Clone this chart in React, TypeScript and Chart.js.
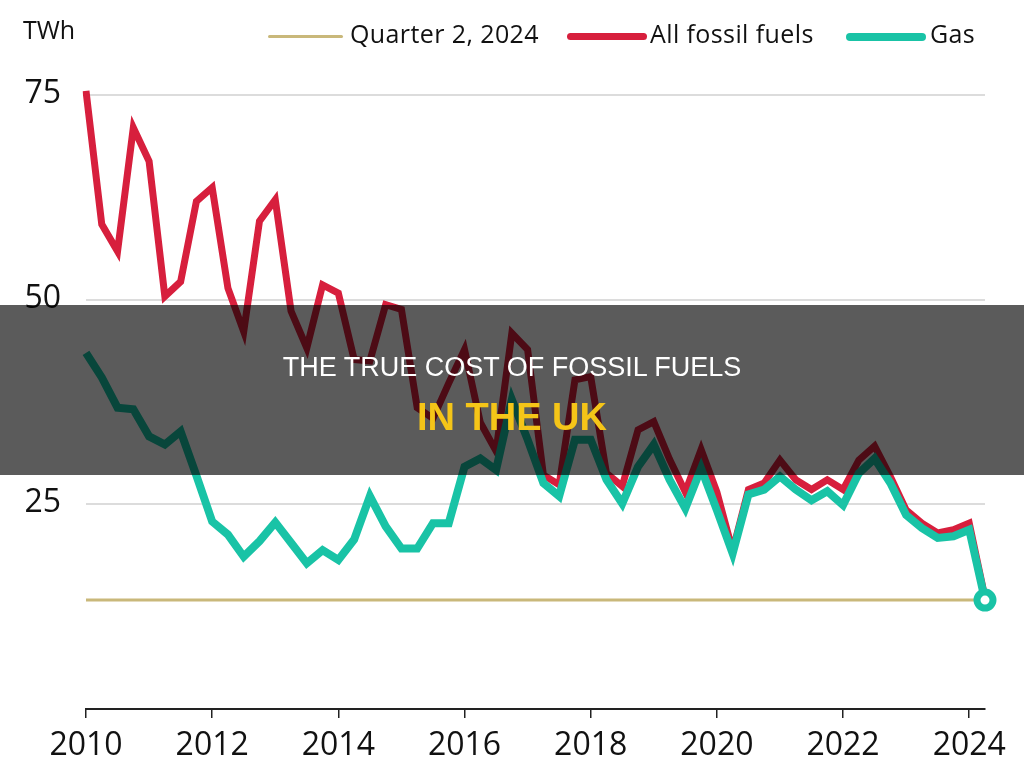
import { useEffect, useRef } from 'react';
import { Chart, registerables } from 'chart.js';

Chart.register(...registerables);

// Quarterly categories, 2010 Q1 to 2024 Q2
const years = [2010, 2011, 2012, 2013, 2014, 2015, 2016, 2017, 2018, 2019, 2020, 2021, 2022, 2023, 2024];
const quarterNames = ['Q1', 'Q2', 'Q3', 'Q4'];
const lastQuarter = '2024 Q2';
const allQuarters = years.flatMap((y) => quarterNames.map((q) => `${y} ${q}`));
const categories = allQuarters.slice(0, allQuarters.indexOf(lastQuarter) + 1);

// Year labels shown on the x axis (at the first quarter of each)
const xTickYears = ['2010', '2012', '2014', '2016', '2018', '2020', '2022', '2024'];
// Values labelled on the y axis
const yTickValues = [25, 50, 75];

// Generation from all fossil fuels, TWh per quarter
const fossilFuels = [
  75.5, 59.2, 55.9, 71.0, // 2010
  66.9, 50.4, 52.2, 62.0, // 2011
  63.7, 51.4, 46.1, 59.6, // 2012
  62.2, 48.6, 44.1, 51.8, // 2013
  50.8, 42.7, 42.5, 49.4, // 2014
  48.8, 36.8, 35.5, 39.8, // 2015
  43.9, 35.0, 31.5, 45.9, // 2016
  43.9, 28.6, 27.4, 40.2, // 2017
  40.6, 28.8, 27.2, 34.1, // 2018
  35.1, 30.5, 26.5, 31.7, // 2019
  26.5, 19.3, 26.8, 27.6, // 2020
  30.4, 28.0, 26.8, 28.0, // 2021
  26.8, 30.4, 32.1, 28.4, // 2022
  24.3, 22.7, 21.5, 21.9, // 2023
  22.7, 13.6,             // 2024
];

// Generation from gas, TWh per quarter
const gas = [
  43.5, 40.5, 36.8, 36.6, // 2010
  33.3, 32.3, 33.9, 28.5, // 2011
  22.9, 21.3, 18.6, 20.5, // 2012
  22.8, 20.3, 17.8, 19.4, // 2013
  18.2, 20.7, 26.0, 22.3, // 2014
  19.6, 19.6, 22.7, 22.7, // 2015
  29.6, 30.6, 29.2, 37.8, // 2016
  32.9, 27.6, 26.0, 32.9, // 2017
  32.9, 28.0, 25.1, 29.6, // 2018
  32.3, 28.0, 24.5, 29.4, // 2019
  24.3, 19.0, 26.2, 26.8, // 2020
  28.4, 26.8, 25.5, 26.6, // 2021
  24.9, 28.8, 30.6, 27.6, // 2022
  23.7, 22.1, 20.9, 21.1, // 2023
  21.9, 13.3,             // 2024
];

// Level reached in the second quarter of 2024
const quarter2Level = 13.3;

const seriesNames = ['Quarter 2, 2024', 'All fossil fuels', 'Gas'];
const seriesColors = ['#c9b87a', '#d71f3d', '#19c3a6'];
const seriesWidths = [3, 7, 8];

// Legend placement (line sample start, length, text start)
const legendLayout = [
  { lineLeft: 268, lineLength: 75, textLeft: 350 },
  { lineLeft: 567, lineLength: 80, textLeft: 650 },
  { lineLeft: 846, lineLength: 80, textLeft: 930 },
];

const FONT = '"Open Sans", "DejaVu Sans", sans-serif';

function FuelChart() {
  const canvasRef = useRef<HTMLCanvasElement | null>(null);

  useEffect(() => {
    const canvas = canvasRef.current;
    if (!canvas) return;

    const chart = new Chart(canvas, {
      type: 'line',
      data: {
        labels: categories,
        datasets: [
          {
            label: seriesNames[0],
            data: [
              { x: categories[0], y: quarter2Level },
              { x: categories[categories.length - 1], y: quarter2Level },
            ],
            borderColor: seriesColors[0],
            borderWidth: seriesWidths[0],
            pointRadius: 0,
            order: 2,
          },
          {
            label: seriesNames[1],
            data: fossilFuels,
            borderColor: seriesColors[1],
            borderWidth: seriesWidths[1],
            borderJoinStyle: 'miter',
            pointRadius: 0,
            order: 1,
          },
          {
            label: seriesNames[2],
            data: gas,
            borderColor: seriesColors[2],
            borderWidth: seriesWidths[2],
            borderJoinStyle: 'miter',
            pointRadius: (ctx: any) => (ctx.dataIndex === gas.length - 1 ? 8 : 0),
            pointBorderWidth: 7,
            pointBorderColor: seriesColors[2],
            pointBackgroundColor: '#ffffff',
            clip: false,
            order: 0,
          },
        ],
      },
      options: {
        responsive: false,
        animation: false,
        devicePixelRatio: 1,
        layout: { padding: { top: 70.4, right: 39, bottom: 0, left: 0 } },
        plugins: {
          legend: { display: false },
          tooltip: { enabled: false },
        },
        scales: {
          x: {
            type: 'category',
            offset: false,
            afterBuildTicks: (scale: any) => {
              scale.ticks = scale.ticks.filter((t: any) => {
                const [y, q] = String(categories[t.value]).split(' ');
                return q === 'Q1' && xTickYears.includes(y);
              });
            },
            afterFit: (scale: any) => {
              scale.height = 73;
            },
            grid: {
              drawOnChartArea: false,
              drawTicks: true,
              tickLength: 9,
              color: '#222222',
              lineWidth: 1.5,
            },
            border: { display: true, color: '#222222', width: 2 },
            ticks: {
              autoSkip: false,
              maxRotation: 0,
              minRotation: 0,
              padding: 9,
              color: '#111111',
              font: { family: FONT, size: 32 },
              callback: function (this: any, value: any) {
                return String(this.getLabelForValue(value)).split(' ')[0];
              },
            },
          },
          y: {
            type: 'linear',
            min: 0,
            max: 78,
            afterBuildTicks: (scale: any) => {
              scale.ticks = yTickValues.map((v) => ({ value: v }));
            },
            afterFit: (scale: any) => {
              scale.width = 86;
            },
            grid: { drawTicks: false, color: '#dcdcdc', lineWidth: 2 },
            border: { display: false },
            ticks: {
              padding: 25,
              labelOffset: -1,
              color: '#111111',
              font: { family: FONT, size: 32 },
            },
          },
        },
      },
    });

    return () => chart.destroy();
  }, []);

  return (
    <canvas
      ref={canvasRef}
      width={1024}
      height={782}
      style={{ position: 'absolute', left: 0, top: 0, width: 1024, height: 782 }}
    />
  );
}

export default function App() {
  return (
    <div
      style={{
        position: 'absolute',
        left: 0,
        top: 0,
        width: 1024,
        height: 782,
        background: '#ffffff',
        overflow: 'hidden',
      }}
    >
      <FuelChart />

      <div
        style={{
          position: 'absolute',
          left: 23,
          top: 17,
          font: `25px ${FONT}`,
          lineHeight: '25px',
          color: '#111111',
          whiteSpace: 'nowrap',
        }}
      >
        TWh
      </div>

      {seriesNames.map((name, i) => (
        <div key={name}>
          <div
            style={{
              position: 'absolute',
              left: legendLayout[i].lineLeft,
              top: 36.5 - seriesWidths[i] / 2,
              width: legendLayout[i].lineLength,
              height: seriesWidths[i],
              borderRadius: seriesWidths[i] / 2,
              background: seriesColors[i],
            }}
          />
          <div
            style={{
              position: 'absolute',
              left: legendLayout[i].textLeft,
              top: 21,
              font: `25px ${FONT}`,
              lineHeight: '25px',
              letterSpacing: '0.4px',
              color: '#111111',
              whiteSpace: 'nowrap',
            }}
          >
            {name}
          </div>
        </div>
      ))}

      <div
        style={{
          position: 'absolute',
          left: 0,
          top: 305,
          width: 1024,
          height: 170,
          background: 'rgba(0, 0, 0, 0.645)',
        }}
      >
        <div
          style={{
            position: 'absolute',
            left: 0,
            top: 49,
            width: 1024,
            textAlign: 'center',
            font: '27px "Liberation Sans", Arial, sans-serif',
            lineHeight: '27px',
            color: '#ffffff',
            whiteSpace: 'nowrap',
          }}
        >
          THE TRUE COST OF FOSSIL FUELS
        </div>
        <div
          style={{
            position: 'absolute',
            left: 0,
            top: 93,
            width: 1024,
            textAlign: 'center',
            font: 'bold 38px "Liberation Sans", Arial, sans-serif',
            lineHeight: '38px',
            color: '#f5c518',
            whiteSpace: 'nowrap',
          }}
        >
          IN THE UK
        </div>
      </div>
    </div>
  );
}
